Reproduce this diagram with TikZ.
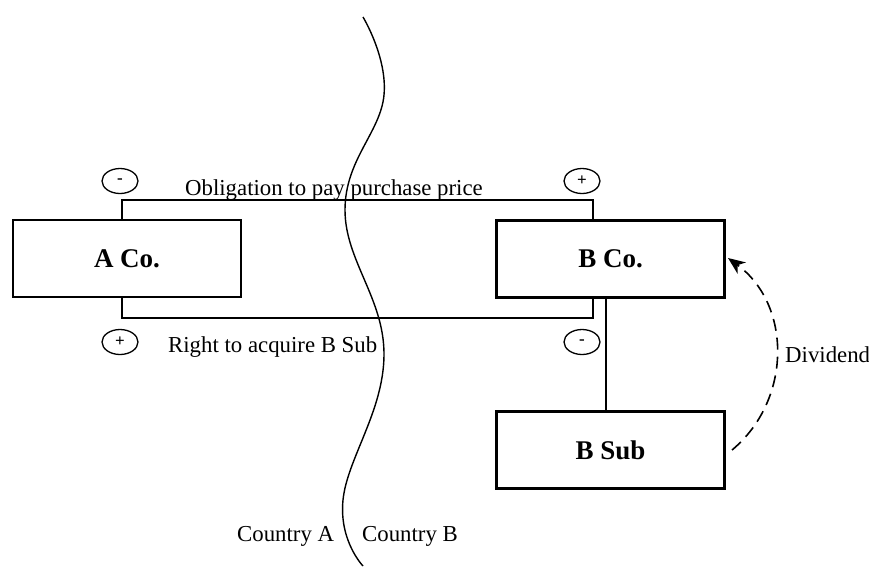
\documentclass[tikz,border=0pt]{standalone}
\usepackage{fontspec}
\setmainfont{Liberation Serif}
\usetikzlibrary{arrows.meta,shapes.geometric}
\begin{document}
\begin{tikzpicture}[x=1pt,y=-1pt,
  entity/.style={draw,line width=2.8pt,minimum width=228pt,minimum height=77pt,inner sep=0pt,font=\fontsize{27}{30}\selectfont\bfseries},
  conn/.style={line width=1.2pt},
  sign/.style={draw,ellipse,line width=1.3pt,minimum width=36pt,minimum height=25pt,inner sep=0pt,font=\fontsize{17}{19}\selectfont\bfseries},
  lbl/.style={font=\fontsize{22.8}{26}\selectfont,inner sep=0pt}]
\useasboundingbox (0,0) rectangle (869,566);
% boxes
\node[entity] (aco) at (127,258.5) {A Co.};
\node[entity] (bco) at (610.5,259) {B Co.};
\node[entity] (bsub) at (610.5,450) {B Sub};
% connector corners
\coordinate (t1) at (122,200);
\coordinate (t2) at (593,200);
\coordinate (b1) at (122,318);
\coordinate (b2) at (593,318);
\coordinate (v) at (606,300);
\draw[conn] (aco.north -| t1) -- (t1) -- (t2) -- (bco.north -| t2);
\draw[conn] (aco.south -| b1) -- (b1) -- (b2) -- (bco.south -| b2);
\draw[conn] (bco.south -| v) -- (bsub.north -| v);
% signs
\node[sign] (s1) at (120,181) {-};
\node[sign] (s2) at (582,181) {+};
\node[sign] (s3) at (120,342) {+};
\node[sign] (s4) at (582,342) {-};
% labels
\node[lbl,anchor=base west] (l1) at (185,195) {Obligation to pay purchase price};
\node[lbl,anchor=base west] (l2) at (168,352) {Right to acquire B Sub};
\node[lbl,anchor=base west] (l3) at (237,541) {Country A};
\node[lbl,anchor=base west] (l4) at (362,541) {Country B};
\node[lbl,anchor=base west] (l5) at (785,362) {Dividend};
% border wave
\draw[line width=1.4pt] plot[smooth,tension=0.7] coordinates {(363,17) (384,95) (345,210) (384,355) (343,500) (363,566)};
% dividend arrow
\coordinate (d1) at (732,450);
\coordinate (d2) at (728,258);
\draw[line width=1.6pt,dash pattern=on 12pt off 7pt,-{Stealth[length=17pt,width=14pt,inset=5pt]}] (d1) .. controls (792,400) and (792,305) .. (d2);
\end{tikzpicture}
\end{document}
